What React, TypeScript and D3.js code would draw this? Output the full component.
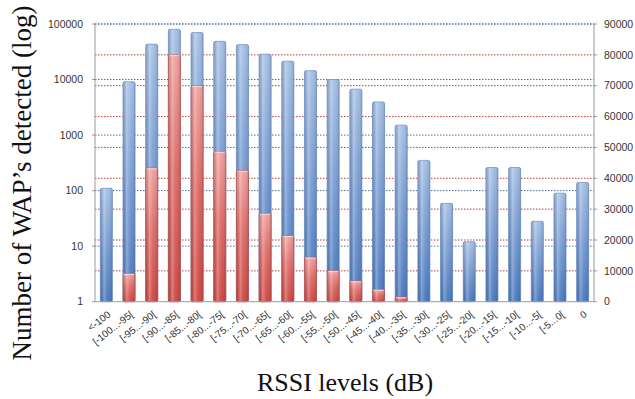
import * as d3 from "d3";

// ── Data ──────────────────────────────────────────────────────
const LEVELS = [
  "<-100", "[-100...-95[", "[-95...-90[", "[-90...-85[", "[-85...-80[", "[-80...-75[",
  "[-75...-70[", "[-70...-65[", "[-65...-60[", "[-60...-55[", "[-55...-50[", "[-50...-45[",
  "[-45...-40[", "[-40...-35[", "[-35...-30[", "[-30...-25[", "[-25...-20[", "[-20...-15[",
  "[-15...-10[", "[-10...-5[", "[-5...0[", "0",
];
// number of WAPs seen per RSSI level (same counts shown on log and linear axes)
const WAPS = [
  110, 9100, 43300, 80000, 70000, 48700, 42500, 28600, 21400, 14400, 10000, 6700,
  3950, 1510, 350, 59, 12, 260, 260, 28, 90, 140,
];
const LOG_TICKS = [1, 10, 100, 1000, 10000, 100000];
const LIN_TICKS = [0, 10000, 20000, 30000, 40000, 50000, 60000, 70000, 80000, 90000];

// ── Geometry ──────────────────────────────────────────────────
const W = 635;
const H = 399;
const L = 95;
const R = 594;
const T = 24;
const B = 301.7;

const SANS = "'Liberation Sans', Arial, sans-serif";
const SERIF = "'Liberation Serif', 'Times New Roman', serif";

export default function App() {
  const x = d3.scaleBand<string>().domain(LEVELS).range([L, R]).paddingInner(0.47).paddingOuter(0.235);
  const yLog = d3.scaleLog().domain([1, 100000]).range([B, T]);
  const yLin = d3.scaleLinear().domain([0, 90000]).range([B, T]);
  const bw = x.bandwidth();

  return (
    <svg width={W} height={H} style={{ position: "absolute", left: 0, top: 0, background: "#fff" }}>
      <defs>
        <linearGradient id="blueV" x1="0" y1="0" x2="0" y2="1">
          <stop offset="0" stopColor="#a5bfe4" />
          <stop offset="0.5" stopColor="#7499d1" />
          <stop offset="1" stopColor="#4676bd" />
        </linearGradient>
        <linearGradient id="redV" x1="0" y1="0" x2="0" y2="1">
          <stop offset="0" stopColor="#f0a09d" />
          <stop offset="0.45" stopColor="#de6a66" />
          <stop offset="1" stopColor="#cc4440" />
        </linearGradient>
        <linearGradient id="shine" x1="0" y1="0" x2="1" y2="0">
          <stop offset="0" stopColor="#000" stopOpacity="0.08" />
          <stop offset="0.3" stopColor="#fff" stopOpacity="0.3" />
          <stop offset="0.6" stopColor="#fff" stopOpacity="0.05" />
          <stop offset="1" stopColor="#000" stopOpacity="0.12" />
        </linearGradient>
      </defs>

      {/* gridlines: red for the linear axis, blue for the log axis */}
      {LIN_TICKS.filter((t) => t > 0 && t < 90000).map((t) => (
        <line key={"r" + t} x1={L} x2={R} y1={yLin(t)} y2={yLin(t)}
          stroke="#b5403d" strokeWidth={1} strokeDasharray="1.5,1.5" />
      ))}
      {LOG_TICKS.filter((t) => t > 1).map((t) => (
        <line key={"b" + t} x1={L} x2={R} y1={yLog(t)} y2={yLog(t)}
          stroke="#4f6f9c" strokeWidth={1} strokeDasharray="1.5,1.5" />
      ))}

      {/* bars: blue on log scale, red in front on linear scale */}
      {WAPS.map((v, i) => {
        const x0 = x(LEVELS[i]) as number;
        const yb = yLog(v);
        const yr = yLin(v);
        return (
          <g key={LEVELS[i]}>
            <rect x={x0} y={yb} width={bw} height={B - yb} fill="url(#blueV)" stroke="#6b8fc6" strokeWidth={0.8} rx={1.5} />
            <rect x={x0} y={yb} width={bw} height={B - yb} fill="url(#shine)" rx={1.5} />
            {B - yr > 1.5 && (
              <>
                <rect x={x0} y={yr} width={bw} height={B - yr} fill="url(#redV)" stroke="#c45a57" strokeWidth={0.8} rx={1.5} />
                <rect x={x0} y={yr} width={bw} height={B - yr} fill="url(#shine)" rx={1.5} />
                <line x1={x0 + 1} x2={x0 + bw - 1} y1={yr + 0.8} y2={yr + 0.8} stroke="#fbd9d8" strokeWidth={1} />
              </>
            )}
          </g>
        );
      })}

      {/* axes */}
      <line x1={L} x2={L} y1={T} y2={B} stroke="#9a9a9a" />
      <line x1={R} x2={R} y1={T} y2={B} stroke="#9a9a9a" />
      <line x1={L} x2={R} y1={B} y2={B} stroke="#9a9a9a" />
      <line x1={L} x2={R} y1={T} y2={T} stroke="#4f6f9c" strokeDasharray="1.5,1.5" />

      {LOG_TICKS.map((t) => (
        <g key={"lt" + t}>
          <line x1={L - 3} x2={L} y1={yLog(t)} y2={yLog(t)} stroke="#9a9a9a" />
          <text x={L - 12} y={yLog(t)} dy="0.35em" textAnchor="end" fontFamily={SANS} fontSize={10.5} fill="#333">
            {t}
          </text>
        </g>
      ))}
      {LIN_TICKS.map((t) => (
        <g key={"rt" + t}>
          <line x1={R} x2={R + 3} y1={yLin(t)} y2={yLin(t)} stroke="#9a9a9a" />
          <text x={R + 10} y={yLin(t)} dy="0.35em" textAnchor="start" fontFamily={SANS} fontSize={10.5} fill="#333">
            {t}
          </text>
        </g>
      ))}

      {LEVELS.map((c) => {
        const cx = (x(c) as number) + bw / 2 + 5;
        const cy = B + 14;
        return (
          <text key={"xl" + c} transform={`translate(${cx},${cy}) rotate(-38)`} textAnchor="end"
            fontFamily={SANS} fontSize={10} fill="#333">
            {c}
          </text>
        );
      })}

      <text transform={`translate(31,${(3 + 363) / 2}) rotate(-90)`} textAnchor="middle" fontFamily={SERIF} fontSize={27} fill="#111">
        Number of WAP’s detected (log)
      </text>
      <text x={345} y={391} textAnchor="middle" fontFamily={SERIF} fontSize={26} fill="#111">
        RSSI levels (dB)
      </text>
    </svg>
  );
}
